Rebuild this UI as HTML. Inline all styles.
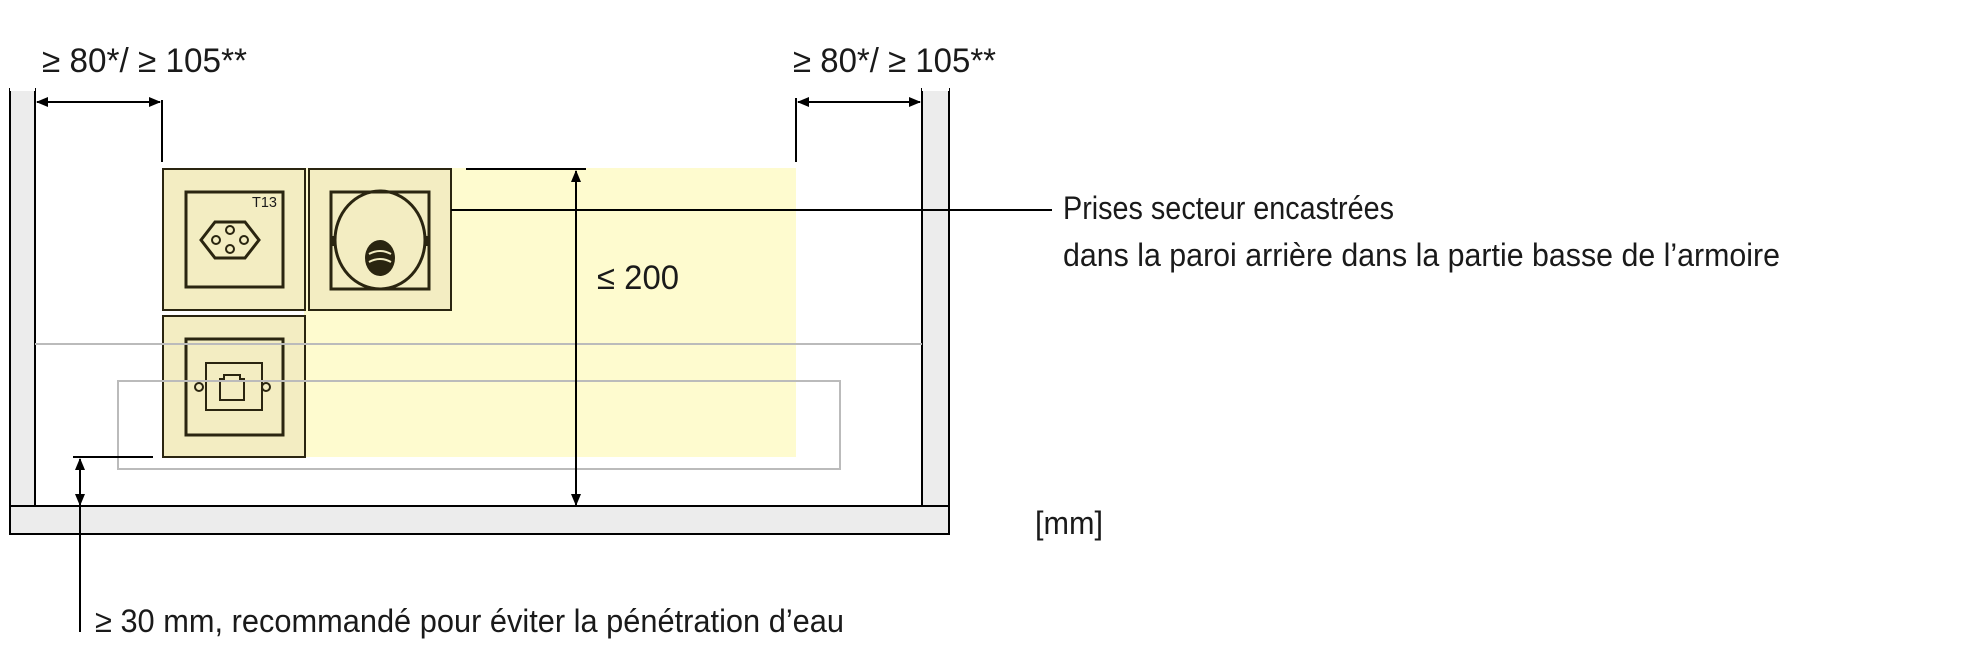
<!DOCTYPE html>
<html><head><meta charset="utf-8"><style>
html,body{margin:0;padding:0;background:#fff;}
svg{display:block;}
text{font-family:"Liberation Sans",sans-serif;fill:#1a1a1a;}
</style></head><body>
<svg width="1983" height="670" viewBox="0 0 1983 670" xmlns="http://www.w3.org/2000/svg">
<defs>
<marker id="a" markerWidth="12" markerHeight="10" refX="11" refY="5" orient="auto" markerUnits="userSpaceOnUse">
<path d="M0,0 L12,5 L0,10 Z" fill="#000"/></marker>
</defs>
<rect x="304" y="168" width="492" height="289" fill="#fefbcf"/>
<rect x="10" y="89" width="25" height="417" fill="#ececec" stroke="#000" stroke-width="2"/>
<rect x="922" y="89" width="27" height="417" fill="#ececec" stroke="#000" stroke-width="2"/>
<rect x="10" y="506" width="939" height="28" fill="#ececec" stroke="#000" stroke-width="2"/>
<rect x="10" y="85" width="25" height="6" fill="#fff"/>
<rect x="922" y="85" width="27" height="6" fill="#fff"/>
<g stroke="#2a2510" stroke-width="2" fill="#f3edc2">
<rect x="163" y="169" width="142" height="141"/>
<rect x="309" y="169" width="142" height="141"/>
<rect x="163" y="316" width="142" height="141"/>
</g>
<g stroke="#2a2510" stroke-width="3" fill="none">
<rect x="186" y="192" width="97" height="95"/>
<rect x="331" y="192" width="98" height="97"/>
<rect x="186" y="339" width="97" height="96"/>
<rect x="206" y="363" width="56" height="47" stroke-width="2"/>
<path d="M201,240 L215,222 L245,222 L259,240 L245,258 L215,258 Z"/>
<circle cx="216" cy="240" r="4" stroke-width="2"/>
<circle cx="244" cy="240" r="4" stroke-width="2"/>
<circle cx="230" cy="249" r="4" stroke-width="2"/>
<circle cx="230" cy="230" r="4" stroke-width="2"/>
<ellipse cx="380" cy="240" rx="45" ry="49"/>
<path d="M224,375 h16 v4 h4 v21 h-24 v-21 h4 z" stroke-width="2"/>
</g>
<text x="252" y="207" font-size="15" fill="#3a3520" textLength="25" lengthAdjust="spacingAndGlyphs">T13</text>
<ellipse cx="380" cy="258" rx="15" ry="18" fill="#2a2510"/>
<path d="M369,254 q11,-6 22,0 M369,262 q11,-6 22,0" stroke="#f3edc2" stroke-width="2" fill="none"/>
<rect x="332" y="236" width="4" height="10" fill="#2a2510"/>
<rect x="425" y="236" width="4" height="10" fill="#2a2510"/>
<circle cx="199" cy="387" r="4" fill="none" stroke="#2a2510" stroke-width="2"/>
<circle cx="266" cy="387" r="4" fill="none" stroke="#2a2510" stroke-width="2"/>
<line x1="35" y1="344" x2="922" y2="344" stroke="#bbb" stroke-width="2"/>
<rect x="118" y="381" width="722" height="88" fill="none" stroke="#bbb" stroke-width="2"/>
<g stroke="#000" stroke-width="2" fill="none">
<line x1="162" y1="100" x2="162" y2="162"/>
<line x1="37" y1="102" x2="160" y2="102" marker-end="url(#a)"/>
<line x1="160" y1="102" x2="37" y2="102" marker-end="url(#a)"/>
<line x1="796" y1="98" x2="796" y2="162"/>
<line x1="798" y1="102" x2="920" y2="102" marker-end="url(#a)"/>
<line x1="920" y1="102" x2="798" y2="102" marker-end="url(#a)"/>
<line x1="466" y1="169" x2="586" y2="169"/>
<line x1="576" y1="300" x2="576" y2="171" marker-end="url(#a)"/>
<line x1="576" y1="300" x2="576" y2="505" marker-end="url(#a)"/>
<line x1="451" y1="210" x2="1052" y2="210"/>
<line x1="73" y1="457" x2="153" y2="457"/>
<line x1="80" y1="490" x2="80" y2="459" marker-end="url(#a)"/>
<line x1="80" y1="480" x2="80" y2="505" marker-end="url(#a)"/>
<line x1="80" y1="505" x2="80" y2="632"/>
</g>
<text x="42" y="72" font-size="34" textLength="205" lengthAdjust="spacingAndGlyphs">≥ 80*/ ≥ 105**</text>
<text x="793" y="72" font-size="34" textLength="203" lengthAdjust="spacingAndGlyphs">≥ 80*/ ≥ 105**</text>
<text x="597" y="289" font-size="34" textLength="82" lengthAdjust="spacingAndGlyphs">≤ 200</text>
<text x="1063" y="219" font-size="32" textLength="331" lengthAdjust="spacingAndGlyphs">Prises secteur encastrées</text>
<text x="1063" y="266" font-size="32" textLength="717" lengthAdjust="spacingAndGlyphs">dans la paroi arrière dans la partie basse de l’armoire</text>
<text x="1035" y="534" font-size="32" textLength="68" lengthAdjust="spacingAndGlyphs">[mm]</text>
<text x="95" y="632" font-size="32" textLength="749" lengthAdjust="spacingAndGlyphs">≥ 30 mm, recommandé pour éviter la pénétration d’eau</text>
</svg>
</body></html>
